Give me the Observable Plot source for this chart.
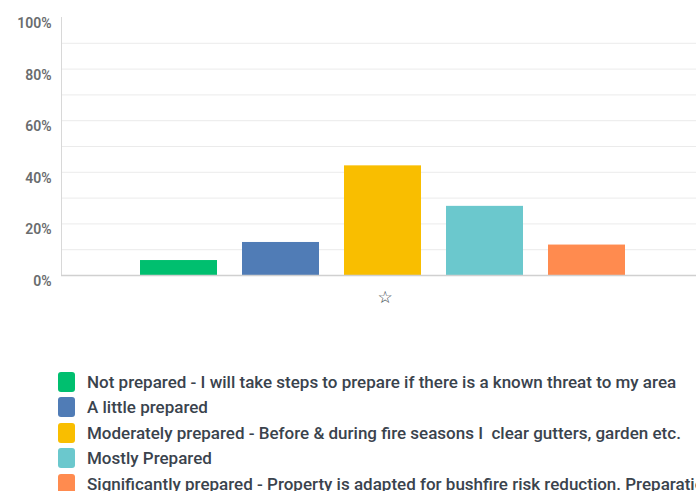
<!DOCTYPE html>
<html>
<head>
<meta charset="utf-8">
<script src="https://cdn.jsdelivr.net/npm/d3@7"></script>
<script src="https://cdn.jsdelivr.net/npm/@observablehq/plot@0.6"></script>
<style>
  html, body { margin: 0; padding: 0; background: #fff; overflow: hidden; width: 696px; height: 491px; }
  #chart svg { display: block; }
  #legend { padding-top: 49px; padding-left: 58px; font-family: Roboto, sans-serif; font-size: 17px; font-weight: 500; color: #3a434d; white-space: nowrap; }
  .row { display: flex; align-items: center; height: 25.5px; }
  .sw { width: 17px; height: 20px; border-radius: 3px; margin-right: 12px; flex: none; }
</style>
</head>
<body>
<div id="chart"></div>
<div id="legend"></div>
<script>
const categories = [
  "Not prepared - I will take steps to prepare if there is a known threat to my area",
  "A little prepared",
  "Moderately prepared - Before & during fire seasons I  clear gutters, garden etc.",
  "Mostly Prepared",
  "Significantly prepared - Property is adapted for bushfire risk reduction. Preparation is ongoing"
];
const percents = [5.8, 12.8, 42.5, 26.8, 11.8];
const colors = ["#00bf6f", "#507cb6", "#f9be00", "#6bc8cd", "#ff8b4f"];
const yTicks = [0, 20, 40, 60, 80, 100];
const gridValues = [10, 20, 30, 40, 50, 60, 70, 80, 90];
const groupLabel = ["☆"];

const data = categories.map((c, i) => ({category: c, value: percents[i], color: colors[i]}));

const chart = Plot.plot({
  width: 696,
  height: 320,
  marginLeft: 61,
  marginRight: 0,
  marginTop: 17,
  marginBottom: 45,
  style: {fontFamily: "Roboto, sans-serif", background: "#fff"},
  x: {domain: categories, range: [61, 704], paddingInner: 0.25, paddingOuter: 0.77, axis: null},
  y: {domain: [0, 100], axis: null},
  marks: [
    Plot.ruleY(gridValues, {stroke: "#ebebeb", strokeWidth: 1}),
    Plot.frame({anchor: "left", stroke: "#d8d8d8", strokeWidth: 1}),
    Plot.axisY(yTicks, {
      tickSize: 0, tickPadding: 10, dy: 6, label: null,
      tickFormat: d => d + "%",
      fontSize: 14, fontWeight: 600, fill: "#6a6c6e"
    }),
    Plot.barY(data, {x: "category", y: "value", fill: "color"}),
    Plot.ruleY([0], {stroke: "#d0d0d0", strokeWidth: 1.5}),
    Plot.text(groupLabel, {x: () => categories[2], y: () => 0, text: d => d, dy: 22, dx: 2, fontSize: 17, fill: "#333e48", fontFamily: "DejaVu Sans"})
  ]
});
document.getElementById("chart").appendChild(chart);

const legend = d3.select("#legend");
categories.forEach((c, i) => {
  const row = legend.append("div").attr("class", "row");
  row.append("div").attr("class", "sw").style("background", colors[i]);
  row.append("span").style("white-space", "pre").text(c);
});
</script>
</body>
</html>
